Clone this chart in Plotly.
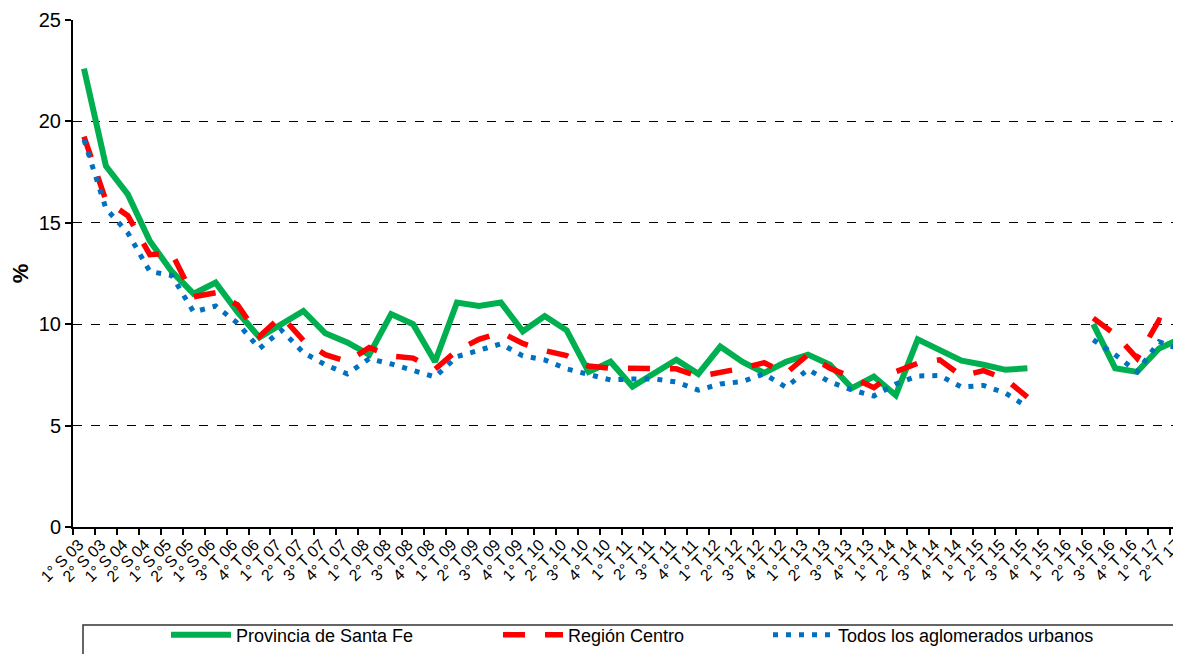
import plotly.graph_objects as go

categories = ["1° S 03", "2° S 03", "1° S 04", "2° S 04", "1° S 05", "2° S 05", "1° S 06",
              "3° T 06", "4° T 06",
              "1° T 07", "2° T 07", "3° T 07", "4° T 07",
              "1° T 08", "2° T 08", "3° T 08", "4° T 08",
              "1° T 09", "2° T 09", "3° T 09", "4° T 09",
              "1° T 10", "2° T 10", "3° T 10", "4° T 10",
              "1° T 11", "2° T 11", "3° T 11", "4° T 11",
              "1° T 12", "2° T 12", "3° T 12", "4° T 12",
              "1° T 13", "2° T 13", "3° T 13", "4° T 13",
              "1° T 14", "2° T 14", "3° T 14", "4° T 14",
              "1° T 15", "2° T 15", "3° T 15", "4° T 15",
              "1° T 16", "2° T 16", "3° T 16", "4° T 16",
              "1° T 17", "2° T 17"]

santa_fe = [22.6, 17.8, 16.4, 14.1, 12.6, 11.5, 12.05, 10.6, 9.35, 10.0, 10.65, 9.55, 9.1,
            8.5, 10.5, 10.0, 8.15, 11.07, 10.9, 11.07, 9.65, 10.4, 9.7, 7.65, 8.15,
            6.92, 7.6, 8.25, 7.55, 8.9, 8.15, 7.6, 8.15, 8.5, 8.0, 6.85, 7.42,
            6.5, 9.25, 8.73, 8.2, 8.0, 7.75, 7.83, None, None, 10.0, 7.83, 7.65, 8.8, 9.3]

region_centro = [19.25, 16.1, 15.35, 13.43, 13.5, 11.35, 11.55, 10.95, 9.4, 10.4, 9.2, 8.5, 8.15,
                 8.85, 8.43, 8.33, 7.78, 8.7, 9.25, 9.6, 9.05, 8.7, 8.45, 7.94, 7.83,
                 7.83, 7.83, 7.8, 7.42, 7.62, 7.83, 8.1, 7.58, 8.5, 7.83, 7.38, 6.87,
                 7.66, 8.07, 8.24, 7.45, 7.71, 7.3, 6.4, None, None, 10.3, 9.5, 8.32, 10.2, 9.8]

todos = [19.1, 15.7, 14.5, 12.6, 12.4, 10.6, 10.9, 10.05, 8.8, 9.7, 8.6, 8.0, 7.55,
         8.3, 8.04, 7.7, 7.4, 8.4, 8.73, 9.03, 8.44, 8.24, 7.8, 7.5, 7.25,
         7.3, 7.3, 7.15, 6.75, 7.05, 7.17, 7.55, 6.89, 7.77, 7.15, 6.76, 6.46,
         7.05, 7.45, 7.47, 6.9, 6.98, 6.6, 5.92, None, None, 9.23, 8.49, 7.66, 9.14, 8.73]

y_ticks = [0, 5, 10, 15, 20, 25]

FONT = "Arial, Liberation Sans, sans-serif"

fig = go.Figure()
fig.add_trace(go.Scatter(x=categories, y=santa_fe, mode="lines", name="Provincia de Santa Fe",
                         line=dict(color="#00B050", width=6), connectgaps=False,
                         legend="legend", showlegend=True))
fig.add_trace(go.Scatter(x=categories, y=region_centro, mode="lines", name="Región Centro",
                         line=dict(color="#FF0000", width=5.5, dash="22px,20px"), connectgaps=False,
                         legend="legend2", showlegend=True))
fig.add_trace(go.Scatter(x=categories, y=todos, mode="lines", name="Todos los aglomerados urbanos",
                         line=dict(color="#0070C0", width=5, dash="5px,8px"), connectgaps=False,
                         legend="legend3", showlegend=True))

# page body has an 8px offset; figure sized to fill the remaining window
OFF = 8
W, H = 1181 - OFF, 654 - OFF
L, R, T, B = 73 - OFF, 0, 20 - OFF, 654 - 527
pw = W - L - R
ph = H - T - B

def px_x(p):  # screen px -> paper x
    return (p - OFF - L) / pw

def px_y(p):  # screen px -> paper y
    return (H - B - (p - OFF)) / ph

def cx(p):  # screen px -> container x
    return (p - OFF) / W

def cy(p):  # screen px -> container y
    return 1 - (p - OFF) / H

leg_common = dict(orientation="h", yanchor="middle", xanchor="left", xref="container", yref="container",
                  bgcolor="rgba(0,0,0,0)", borderwidth=0,
                  font=dict(family=FONT, size=18, color="black"), itemwidth=60)

fig.update_layout(
    width=W, height=H,
    showlegend=True,
    margin=dict(l=L, r=R, t=T, b=B, pad=0, autoexpand=False),
    plot_bgcolor="white", paper_bgcolor="white",
    font=dict(family=FONT, color="black"),
    legend=dict(x=cx(166), y=cy(635), **leg_common),
    legend2=dict(x=cx(498), y=cy(635), **leg_common),
    legend3=dict(x=cx(768), y=cy(635), **leg_common),
    xaxis=dict(type="category", range=[-0.5, 50], tickson="boundaries", tickmode="linear", dtick=1,
               tickangle=-45, tickfont=dict(family=FONT, size=16, color="black"), automargin=False,
               ticklabelshift=-5,
               showline=True, linecolor="black", linewidth=2, ticks="outside", ticklen=6,
               tickcolor="black", tickwidth=1.5, showgrid=False, zeroline=False),
    yaxis=dict(range=[0, 25], tickvals=y_ticks, ticktext=[str(v) for v in y_ticks], automargin=False,
               tickfont=dict(family=FONT, size=20, color="black"),
               showline=True, linecolor="black", linewidth=2, ticks="outside", ticklen=6,
               tickcolor="black", tickwidth=1.5, showgrid=True, gridcolor="black", gridwidth=1.2,
               griddash="dash", zeroline=False,
               title=dict(text="<b>%</b>", font=dict(family=FONT, size=22, color="black"), standoff=10)),
    shapes=[dict(type="rect", xref="paper", yref="paper", x0=px_x(83), x1=px_x(1177),
                 y0=px_y(625), y1=px_y(664), line=dict(color="#333333", width=1.5),
                 fillcolor="rgba(0,0,0,0)", layer="below")],
)

fig.write_html("out.html")
